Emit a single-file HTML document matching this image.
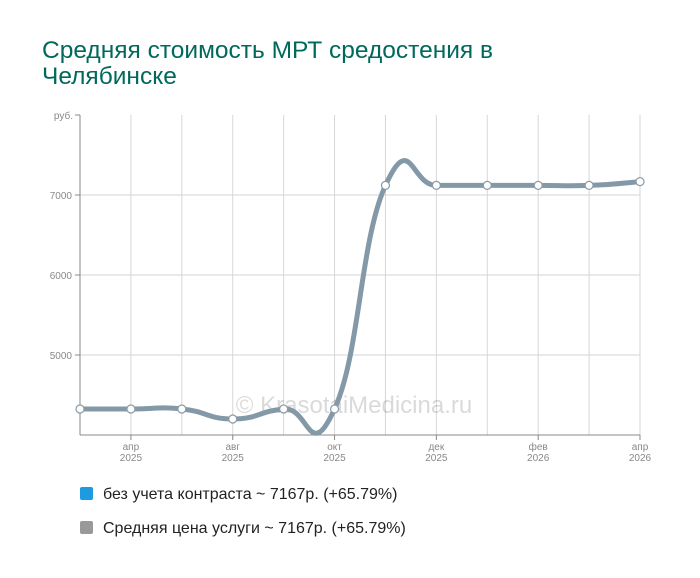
<!DOCTYPE html>
<html><head><meta charset="utf-8"><style>
body{margin:0;background:#fff;font-family:"Liberation Sans","Noto Sans CJK SC",sans-serif}
#wrap{position:relative;width:700px;height:578px;overflow:hidden}
h1{position:absolute;left:42px;top:38px;margin:0;font-weight:normal;font-size:24.5px;line-height:26px;color:#00695c;width:560px}
.leg{position:absolute;left:80px;font-size:16px;color:#222}
.sw{display:inline-block;width:13px;height:13px;border-radius:2px;vertical-align:-1px;margin-right:10px}
</style></head><body><div id="wrap">
<h1>Средняя стоимость МРТ средостения в Челябинске</h1>
<svg id="chart" width="700" height="578" style="position:absolute;left:0;top:0"></svg>
<div class="leg" style="top:486px"><span class="sw" style="background:#1e9be0"></span>без учета контраста ~ 7167р. (+65.79%)</div>
<div class="leg" style="top:520px"><span class="sw" style="background:#999"></span>Средняя цена услуги ~ 7167р. (+65.79%)</div>
</div>
<script>
const labelIdx=[1,3,5,7,9,11];
const xLabels=[["апр","2025"],["авг","2025"],["окт","2025"],["дек","2025"],["фев","2026"],["апр","2026"]];
const values=[4325,4325,4325,4200,4325,4325,7120,7120,7120,7120,7120,7167];
const yTicks=[5000,6000,7000];
const NS="http://www.w3.org/2000/svg";
const svg=document.getElementById('chart');
const L=80,R=640,T=115,B=435,yMin=4000,yMax=8000;
const x=i=>L+(R-L)*i/(values.length-1);
const y=v=>B-(v-yMin)/(yMax-yMin)*(B-T);
function mk(t,a,txt){const e=document.createElementNS(NS,t);for(const k in a)e.setAttribute(k,a[k]);if(txt!=null)e.textContent=txt;svg.appendChild(e);return e;}
for(const v of yTicks){
 const g=mk('line',{x1:L,x2:R,y1:y(v),y2:y(v),stroke:'#d6d6d6'});
 
 
 mk('line',{x1:L-5,x2:L,y1:y(v),y2:y(v),stroke:'#888'});
 const t=mk('text',{x:L-8,y:y(v)+4,'text-anchor':'end','font-size':10,fill:'#888'},v);
 
 
}
mk('line',{x1:L-5,x2:L,y1:T,y2:T,stroke:'#888'});
const ru=mk('text',{x:L-7,y:T+4,'text-anchor':'end','font-size':10,fill:'#888'},'руб.');


for(let i=1;i<values.length;i++){
 const g=mk('line',{x1:x(i),x2:x(i),y1:T,y2:B,stroke:'#d6d6d6'});
 
 
}
labelIdx.forEach((i,k)=>{
 mk('line',{x1:x(i),x2:x(i),y1:B,y2:B+5,stroke:'#888'});
 const t=mk('text',{x:x(i),y:B+15,'text-anchor':'middle','font-size':10,fill:'#888'});
 
 
 const a=document.createElementNS(NS,'tspan');a.setAttribute('x',x(i));a.textContent=xLabels[k][0];t.appendChild(a);
 const b=document.createElementNS(NS,'tspan');b.setAttribute('x',x(i));b.setAttribute('dy',11);b.textContent=xLabels[k][1];t.appendChild(b);
});
mk('line',{x1:L,x2:L,y1:T,y2:B,stroke:'#888'});
mk('line',{x1:L,x2:R,y1:B,y2:B,stroke:'#888'});
const wm=mk('text',{x:354,y:413,'text-anchor':'middle','font-size':24,fill:'#000','fill-opacity':0.15},'© KrasotaiMedicina.ru');


const P=values.map((v,i)=>[x(i),y(v)]);
const k=4;
let d='M'+P[0][0]+','+P[0][1];
for(let i=0;i<P.length-1;i++){
 const p0=P[Math.max(0,i-1)],p1=P[i],p2=P[i+1],p3=P[Math.min(P.length-1,i+2)];
 const c1=[p1[0]+(p2[0]-p0[0])/k,p1[1]+(p2[1]-p0[1])/k];
 const c2=[p2[0]-(p3[0]-p1[0])/k,p2[1]-(p3[1]-p1[1])/k];
 d+=` C${c1[0]},${c1[1]} ${c2[0]},${c2[1]} ${p2[0]},${p2[1]}`;
}
const line=mk('path',{d:d,fill:'none',stroke:'#8499a8','stroke-width':5});


P.forEach(p=>{
 const c=mk('circle',{cx:p[0],cy:p[1],r:4,fill:'#fff',stroke:'#8a9aa6','stroke-width':1.2});
 
 
});
</script></body></html>
